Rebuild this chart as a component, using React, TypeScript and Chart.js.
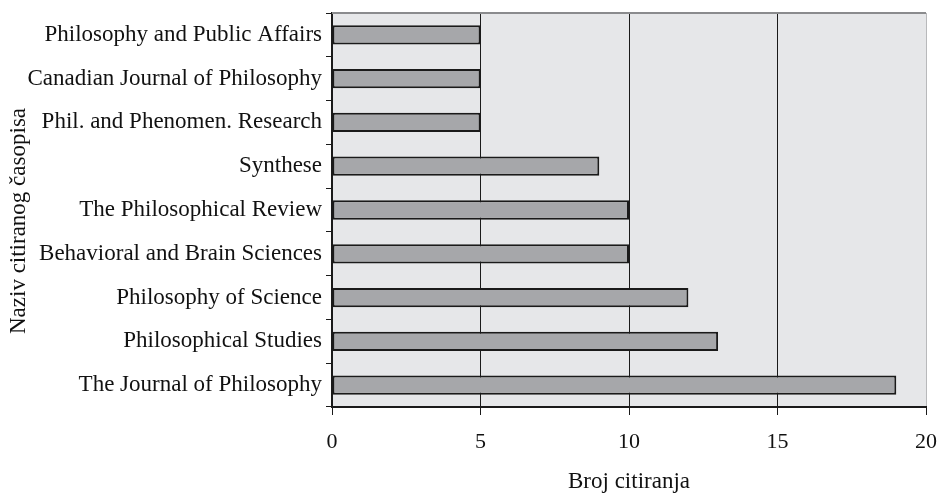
import React, { useEffect, useRef } from "react";
import { Chart, registerables } from "chart.js";

Chart.register(...registerables);

const categories = [
  "Philosophy and Public Affairs",
  "Canadian Journal of Philosophy",
  "Phil. and Phenomen. Research",
  "Synthese",
  "The Philosophical Review",
  "Behavioral and Brain Sciences",
  "Philosophy of Science",
  "Philosophical Studies",
  "The Journal of Philosophy",
];
const citations = [5, 5, 5, 9, 10, 10, 12, 13, 19];
const xTicks = [0, 5, 10, 15, 20];
const xTitle = "Broj citiranja";
const yTitle = "Naziv citiranog časopisa";

const FONT = "'Liberation Serif', 'Times New Roman', serif";

const bgPlugin = {
  id: "bgPlugin",
  beforeDraw(chart: any) {
    const { ctx, chartArea } = chart;
    ctx.save();
    ctx.fillStyle = "#e6e7e9";
    ctx.fillRect(chartArea.left, chartArea.top, chartArea.right - chartArea.left, chartArea.bottom - chartArea.top);
    ctx.restore();
  },
  afterDraw(chart: any) {
    const { ctx, chartArea } = chart;
    ctx.save();
    ctx.strokeStyle = "#8a8b8d";
    ctx.lineWidth = 2;
    ctx.beginPath();
    ctx.moveTo(chartArea.left, chartArea.top);
    ctx.lineTo(chartArea.right, chartArea.top);
    ctx.stroke();
    // axis titles
    ctx.fillStyle = "#111";
    ctx.font = `23px ${FONT}`;
    ctx.textAlign = "center";
    ctx.textBaseline = "alphabetic";
    ctx.fillText(xTitle, (chartArea.left + chartArea.right) / 2, 488);
    ctx.textBaseline = "middle";
    ctx.translate(19, 221);
    ctx.rotate(-Math.PI / 2);
    ctx.fillText(yTitle, 0, 0);
    ctx.restore();
  },
};

export default function App() {
  const ref = useRef<HTMLCanvasElement | null>(null);
  useEffect(() => {
    document.body.style.margin = "0";
    const chart = new Chart(ref.current as HTMLCanvasElement, {
      type: "bar",
      data: {
        labels: categories,
        datasets: [
          {
            data: citations,
            backgroundColor: "#a6a7aa",
            borderColor: "#1a1a1a",
            borderWidth: 2,
            borderSkipped: false,
            barPercentage: 0.44,
            categoryPercentage: 1,
          },
        ],
      },
      options: {
        indexAxis: "y",
        animation: false,
        responsive: false,
        maintainAspectRatio: false,
        layout: { padding: { top: 13, right: 13, left: 0, bottom: 0 } },
        plugins: { legend: { display: false }, tooltip: { enabled: false } },
        scales: {
          x: {
            min: 0,
            max: 20,
            afterBuildTicks: (scale: any) => {
              scale.ticks = xTicks.map((v) => ({ value: v }));
            },
            afterFit: (scale: any) => {
              scale.height = 86;
              scale.paddingLeft = 0;
              scale.paddingRight = 0;
            },
            grid: {
              color: (c: any) => (c.tick && c.tick.value === 20 ? "#b8b9bb" : "#1a1a1a"),
              lineWidth: 1,
              tickLength: 8,
              drawTicks: true,
              tickColor: "#1a1a1a",
            },
            border: { color: "#1a1a1a", width: 2 },
            ticks: {
              color: "#111",
              font: { family: FONT, size: 22 },
              padding: 14,
            },
            title: { display: false },
          },
          y: {
            afterFit: (scale: any) => {
              scale.width = 332;
              scale.paddingTop = 0;
              scale.paddingBottom = 0;
            },
            grid: {
              drawOnChartArea: false,
              offset: true,
              tickLength: 6,
              tickColor: "#1a1a1a",
            },
            border: { color: "#1a1a1a", width: 2 },
            ticks: {
              color: "#111",
              font: { family: FONT, size: 23 },
              padding: 4,
            },
            title: { display: false },
          },
        },
      },
      plugins: [bgPlugin],
    } as any);
    return () => chart.destroy();
  }, []);
  return (
    <div style={{ width: 939, height: 493 }}>
      <canvas ref={ref} width={939} height={493} style={{ display: "block" }} />
    </div>
  );
}
